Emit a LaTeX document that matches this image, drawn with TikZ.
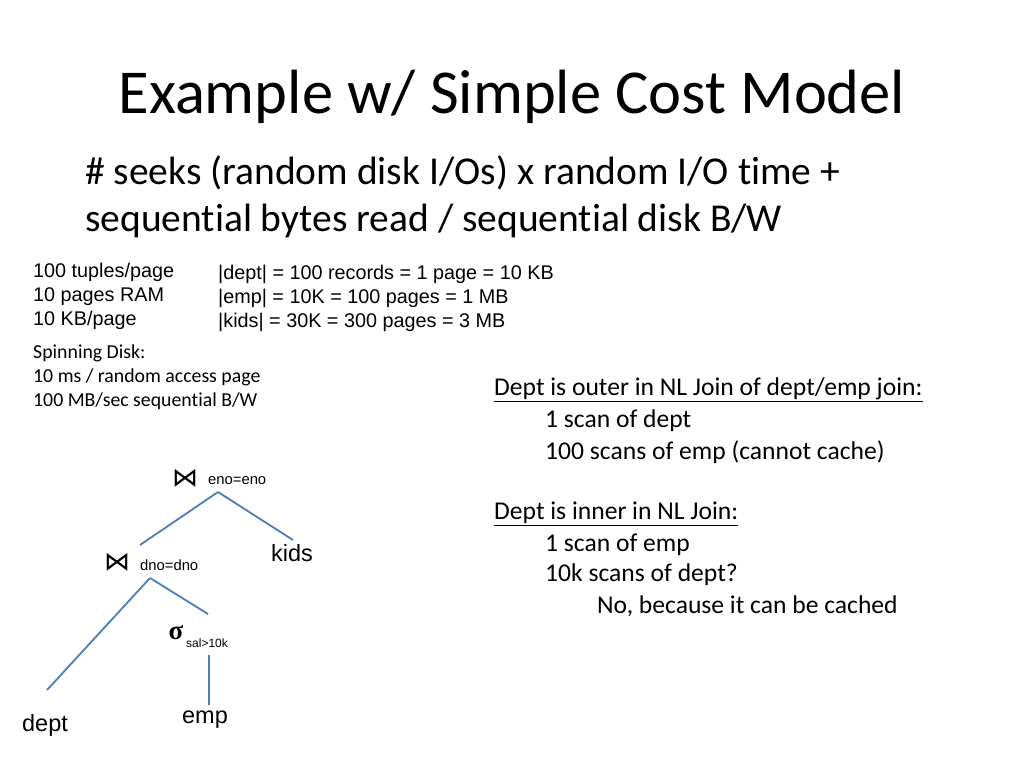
\documentclass[tikz,border=0pt]{standalone}
\usepackage{fontspec}
\setmainfont[Ligatures=NoCommon]{Carlito}
\newfontfamily\arial{Liberation Sans}
\newfontfamily\djv{DejaVu Sans}
\newfontfamily\tms{Liberation Serif}
\begin{document}
\begin{tikzpicture}[x=1pt,y=-1pt,
  sm/.style={font=\arial\fontsize{19.8}{24}\selectfont,anchor=west,align=left,inner sep=0},
  cal/.style={font=\fontsize{19.8}{24}\selectfont,anchor=west,align=left,inner sep=0},
  body/.style={font=\fontsize{25.6}{31}\selectfont,anchor=west,align=left,inner sep=0},
  tiny/.style={font=\arial\fontsize{14.8}{16}\selectfont,anchor=west,inner sep=0},
  lbl/.style={font=\arial\fontsize{23.5}{24}\selectfont},
  edge/.style={draw={rgb,255:red,74;green,126;blue,187},line width=1.8pt}]
\useasboundingbox (0,0) rectangle (1024,768);
\node[font=\fontsize{62.5}{66}\selectfont] (title) at (512,97) {Example w/ Simple Cost Model};
\node[anchor=west,align=left,inner sep=0,font=\fontsize{39.5}{47}\selectfont] (sub) at (85,197) {\# seeks (random disk I/Os) x random I/O time +\\sequential bytes read / sequential disk B/W};
\node[sm] (p1) at (33,296) {100 tuples/page\\10 pages RAM\\10 KB/page};
\node[sm] (p2) at (218,298) {|dept| = 100 records = 1 page = 10 KB\\|emp| = 10K = 100 pages = 1 MB\\|kids| = 30K = 300 pages = 3 MB};
\node[cal] (disk) at (33,377) {Spinning Disk:\\10 ms / random access page\\100 MB/sec sequential B/W};
\node[body] (r1) at (494,390) {\underline{Dept is outer in NL Join of dept/emp join:}};
\node[body] (r2) at (545,421) {1 scan of dept};
\node[body] (r3) at (545,452) {100 scans of emp (cannot cache)};
\node[body] (r4) at (494,514) {\underline{Dept is inner in NL Join:}};
\node[body] (r5) at (545,545) {1 scan of emp};
\node[body] (r6) at (545,575) {10k scans of dept?};
\node[body] (r7) at (597,606) {No, because it can be cached};
% tree
\node[font=\djv\fontsize{26}{26}\selectfont,inner sep=0] (j1) at (185,478) {⋈};
\node[tiny] (j1l) at (208,481) {eno=eno};
\node[font=\djv\fontsize{26}{26}\selectfont,inner sep=0] (j2) at (117,562) {⋈};
\node[tiny] (j2l) at (140,565) {dno=dno};
\node[font=\tms\bfseries\fontsize{27}{27}\selectfont,inner sep=0] (sg) at (176,633) {σ};
\node[tiny,font=\arial\fontsize{12}{12}\selectfont] (sgl) at (186,643) {sal>10k};
\node[lbl] (kids) at (292,553) {kids};
\node[lbl] (emp) at (205,720) {emp};
\node[lbl] (dept) at (45,725) {dept};
\coordinate (a) at (218,492); \coordinate (a1) at (140,545); \coordinate (a2) at (293,540);
\coordinate (b) at (150,578); \coordinate (b1) at (47,690); \coordinate (b2) at (208,614);
\coordinate (c) at (209,655); \coordinate (c1) at (209,705);
\draw[edge] (a) -- (a1); \draw[edge] (a) -- (a2);
\draw[edge] (b) -- (b1); \draw[edge] (b) -- (b2);
\draw[edge] (c) -- (c1);
\end{tikzpicture}
\end{document}
